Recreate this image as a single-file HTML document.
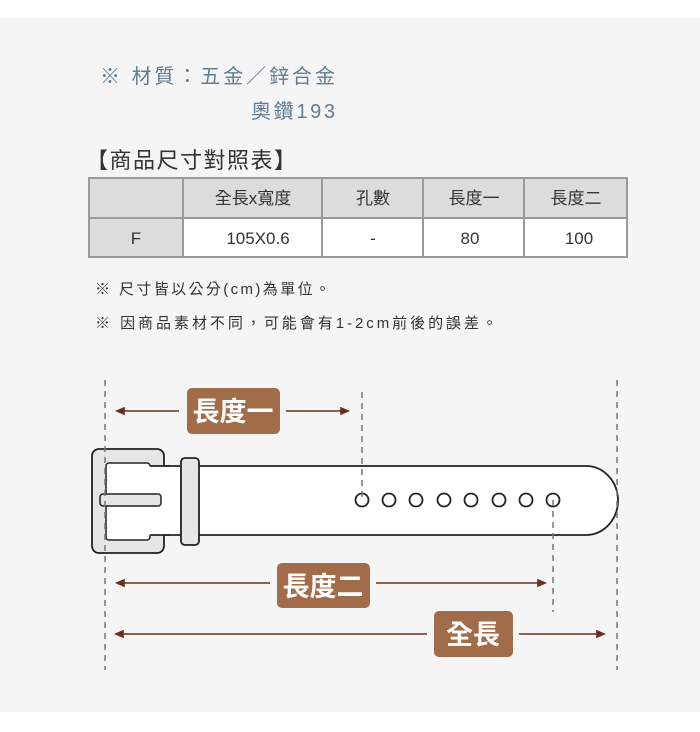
<!DOCTYPE html>
<html><head><meta charset="utf-8"><style>
html,body{margin:0;padding:0;background:#fff;}
svg{display:block}
text{font-family:"Liberation Sans","Noto Sans CJK TC",sans-serif;}
</style></head><body>
<svg width="700" height="732" viewBox="0 0 700 732" xmlns="http://www.w3.org/2000/svg">
<rect x="0" y="18" width="700" height="694" fill="#f5f5f5"/>
<g fill="#5f7d96" font-size="20">
<text x="100" y="83" textLength="235" lengthAdjust="spacing">※ 材質：五金／鋅合金</text>
<text x="251" y="118" textLength="84" lengthAdjust="spacing">奧鑽193</text>
</g>
<text x="86" y="168" font-size="22" fill="#333" textLength="210" lengthAdjust="spacing">【商品尺寸對照表】</text>
<!-- table -->
<rect x="89" y="178" width="538" height="40" fill="#dcdcdc"/>
<rect x="89" y="218" width="94" height="39" fill="#dcdcdc"/>
<rect x="183" y="218" width="444" height="39" fill="#fff"/>
<g stroke="#9a9a9a" stroke-width="2" fill="none">
<rect x="89" y="178" width="538" height="79"/>
<line x1="89" y1="218" x2="627" y2="218"/>
<line x1="183" y1="178" x2="183" y2="257"/>
<line x1="322" y1="178" x2="322" y2="257"/>
<line x1="423" y1="178" x2="423" y2="257"/>
<line x1="524" y1="178" x2="524" y2="257"/>
</g>
<g font-size="17" fill="#333" text-anchor="middle">
<text x="253" y="204">全長x寬度</text>
<text x="373" y="204">孔數</text>
<text x="474" y="204">長度一</text>
<text x="576" y="204">長度二</text>
<text x="136" y="244">F</text>
<text x="258" y="244">105X0.6</text>
<text x="373" y="244">-</text>
<text x="470" y="244">80</text>
<text x="579" y="244">100</text>
</g>
<g font-size="15" fill="#333">
<text x="95" y="294" textLength="235" lengthAdjust="spacing">※ 尺寸皆以公分(cm)為單位。</text>
<text x="95" y="328" textLength="402" lengthAdjust="spacing">※ 因商品素材不同，可能會有1-2cm前後的誤差。</text>
</g>
<!-- belt -->
<path d="M150 466 H586 A32 34.5 0 0 1 586 535 H150 Z" fill="#fff" stroke="#222" stroke-width="1.8"/>
<rect x="92" y="449" width="72" height="104" rx="7" fill="#e6e6e6" stroke="#222" stroke-width="1.8"/>
<rect x="106" y="463" width="44" height="77" rx="3" fill="#fff" stroke="#222" stroke-width="1.5"/>
<rect x="148" y="466" width="22" height="69" fill="#fff"/>
<line x1="150" y1="466" x2="170" y2="466" stroke="#222" stroke-width="1.8"/>
<line x1="150" y1="535" x2="170" y2="535" stroke="#222" stroke-width="1.8"/>
<rect x="100" y="494" width="61" height="12" rx="3" fill="#e6e6e6" stroke="#222" stroke-width="1.5"/>
<rect x="181" y="458" width="18" height="87" rx="4" fill="#e6e6e6" stroke="#222" stroke-width="1.8"/>
<g fill="#fff" stroke="#222" stroke-width="1.8">
<circle cx="362" cy="500" r="6.5"/><circle cx="389" cy="500" r="6.5"/><circle cx="416" cy="500" r="6.5"/><circle cx="444" cy="500" r="6.5"/>
<circle cx="471" cy="500" r="6.5"/><circle cx="499" cy="500" r="6.5"/><circle cx="526" cy="500" r="6.5"/><circle cx="553" cy="500" r="6.5"/>
</g>
<!-- dashed guides -->
<g stroke="#777" stroke-width="1.5" stroke-dasharray="6,5" fill="none">
<line x1="105" y1="380" x2="105" y2="670"/>
<line x1="617" y1="380" x2="617" y2="670"/>
<line x1="362" y1="392" x2="362" y2="500"/>
<line x1="553" y1="500" x2="553" y2="612"/>
</g>
<!-- arrows -->
<g stroke="#6b2e22" stroke-width="1.6" fill="#6b2e22">
<line x1="120" y1="411" x2="179" y2="411"/><line x1="286" y1="411" x2="344" y2="411"/>
<path d="M117 411 l7 -3 v6z"/><path d="M348 411 l-7 -3 v6z"/>
<line x1="120" y1="583" x2="270" y2="583"/><line x1="376" y1="583" x2="541" y2="583"/>
<path d="M117 583 l7 -3 v6z"/><path d="M545 583 l-7 -3 v6z"/>
<line x1="120" y1="634" x2="427" y2="634"/><line x1="519" y1="634" x2="600" y2="634"/>
<path d="M116 634 l7 -3 v6z"/><path d="M604 634 l-7 -3 v6z"/>
</g>
<g fill="#a26c48">
<rect x="187" y="388" width="93" height="46" rx="5"/>
<rect x="277" y="563" width="93" height="45" rx="5"/>
<rect x="434" y="611" width="79" height="46" rx="5"/>
</g>
<g fill="#fff" font-size="27" font-weight="bold" text-anchor="middle">
<text x="233" y="421">長度一</text>
<text x="323" y="596">長度二</text>
<text x="473" y="644">全長</text>
</g>
</svg>
</body></html>
